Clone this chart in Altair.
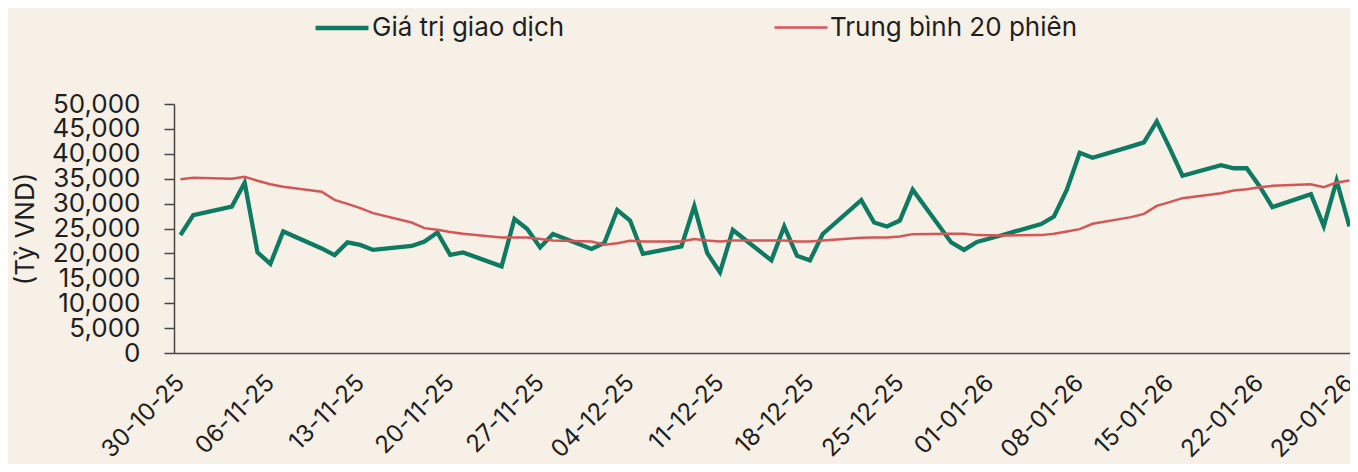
import altair as alt
import pandas as pd

# ---- data ----
ngay = [
    "2025-10-30", "2025-10-31",
    "2025-11-03", "2025-11-04", "2025-11-05", "2025-11-06", "2025-11-07",
    "2025-11-10", "2025-11-11", "2025-11-12", "2025-11-13", "2025-11-14",
    "2025-11-17", "2025-11-18", "2025-11-19", "2025-11-20", "2025-11-21",
    "2025-11-24", "2025-11-25", "2025-11-26", "2025-11-27", "2025-11-28",
    "2025-12-01", "2025-12-02", "2025-12-03", "2025-12-04", "2025-12-05",
    "2025-12-08", "2025-12-09", "2025-12-10", "2025-12-11", "2025-12-12",
    "2025-12-15", "2025-12-16", "2025-12-17", "2025-12-18", "2025-12-19",
    "2025-12-22", "2025-12-23", "2025-12-24", "2025-12-25", "2025-12-26",
    "2025-12-29", "2025-12-30", "2025-12-31", "2026-01-02",
    "2026-01-05", "2026-01-06", "2026-01-07", "2026-01-08", "2026-01-09",
    "2026-01-12", "2026-01-13", "2026-01-14", "2026-01-15", "2026-01-16",
    "2026-01-19", "2026-01-20", "2026-01-21", "2026-01-22", "2026-01-23",
    "2026-01-26", "2026-01-27", "2026-01-28", "2026-01-29",
]

gia_tri_giao_dich = [
    23700, 27700,
    29400, 34200, 20200, 17900, 24400,
    21000, 19650, 22200, 21700, 20700,
    21500, 22400, 24200, 19700, 20200,
    17400, 26900, 24900, 21200, 23900,
    20900, 22100, 28700, 26600, 19900,
    21400, 29500, 20100, 16200, 24700,
    18600, 25400, 19500, 18600, 23900,
    30700, 26200, 25400, 26600, 32800,
    22200, 20700, 22300, 23700,
    25900, 27400, 32800, 40200, 39200,
    41500, 42300, 46500, 41200, 35600,
    37700, 37100, 37100, 33500, 29300,
    31900, 25500, 34600, 25400,
]

trung_binh_20 = [
    34900, 35200,
    35000, 35400, 34600, 33900, 33400,
    32400, 30750, 29950, 29080, 28080,
    26200, 25070, 24730, 24300, 23930,
    23200, 23200, 23200, 22870, 22590,
    22390, 21720, 22060, 22530, 22390,
    22390, 22870, 22590, 22390, 22590,
    22590, 22590, 22390, 22390, 22590,
    23130, 23200, 23200, 23400, 23870,
    23930, 23930, 23670, 23600,
    23670, 23930, 24400, 24870, 25940,
    27280, 27940, 29550, 30290, 31090,
    32100, 32620, 32900, 33300, 33560,
    33900, 33300, 34230, 34630,
]

ten_chuoi = ["Giá trị giao dịch", "Trung bình 20 phiên"]
mau = ["#0F7A62", "#D55656"]
do_day = [4.3, 2.5]

moc_truc_x = [
    "2025-10-30", "2025-11-06", "2025-11-13", "2025-11-20", "2025-11-27",
    "2025-12-04", "2025-12-11", "2025-12-18", "2025-12-25",
    "2026-01-01", "2026-01-08", "2026-01-15", "2026-01-22", "2026-01-29",
]
moc_truc_y = [0, 5000, 10000, 15000, 20000, 25000, 30000, 35000, 40000, 45000, 50000]

# ---- build table ----
n = len(ngay)
df = pd.DataFrame({
    "date": pd.to_datetime(ngay + ngay),
    "value": gia_tri_giao_dich + trung_binh_20,
    "series": [ten_chuoi[0]] * n + [ten_chuoi[1]] * n,
})


def dt(s, hours=0):
    y, m, d = map(int, s.split("-"))
    return alt.DateTime(year=y, month=m, date=d, hours=hours)


FONT = "Inter"
TXT = "#1f1f1f"
AX = "#454545"
BG = "#F7F0E6"

legend = alt.Legend(
    title=None,
    orient="none",
    legendX=139,
    legendY=-105,
    direction="horizontal",
    symbolType="stroke",
    symbolSize=2800,
    labelFont=FONT,
    labelFontSize=26,
    labelColor=TXT,
    labelOffset=1,
    labelLimit=0,
    columnPadding=204,
    padding=0,
)

chart = (
    alt.Chart(df)
    .mark_line()
    .encode(
        x=alt.X(
            "date:T",
            title=None,
            scale=alt.Scale(domain=[dt("2025-10-29", 12), dt("2026-01-29", 1)]),
            axis=alt.Axis(
                values=[dt(s) for s in moc_truc_x],
                format="%d-%m-%y",
                labelAngle=-45,
                labelAlign="right",
                labelBaseline="middle",
                labelPadding=26,
                labelFont=FONT,
                labelFontSize=24,
                labelColor=TXT,
                labelOverlap=False,
                ticks=False,
                grid=False,
                domainColor=AX,
                domainWidth=1.5,
            ),
        ),
        y=alt.Y(
            "value:Q",
            scale=alt.Scale(domain=[0, 50000], nice=False),
            axis=alt.Axis(
                values=moc_truc_y,
                format=",.0f",
                title="(Tỷ VND)",
                titleFont=FONT,
                titleFontSize=26,
                titleFontWeight="normal",
                titleColor=TXT,
                titleAngle=-90,
                titleAlign="center",
                titleBaseline="middle",
                titleX=-149,
                titleY=124.5,
                labelFont=FONT,
                labelFontSize=26,
                labelColor=TXT,
                labelPadding=24,
                labelOverlap=False,
                tickSize=10,
                tickColor=AX,
                tickWidth=1.5,
                domainColor=AX,
                domainWidth=1.5,
                grid=False,
            ),
        ),
        color=alt.Color(
            "series:N",
            scale=alt.Scale(domain=ten_chuoi, range=mau),
            legend=legend,
        ),
        strokeWidth=alt.StrokeWidth(
            "series:N",
            scale=alt.Scale(domain=ten_chuoi, range=do_day),
            legend=legend,
        ),
    )
    .properties(
        width=1176,
        height=249,
        autosize=alt.AutoSizeParams(type="none"),
        padding={"left": 166, "top": 96, "right": 0, "bottom": 111},
        background=BG,
    )
    .configure_view(stroke=None)
)

chart.save("out.html", embed_options={"renderer": "svg", "actions": False})
